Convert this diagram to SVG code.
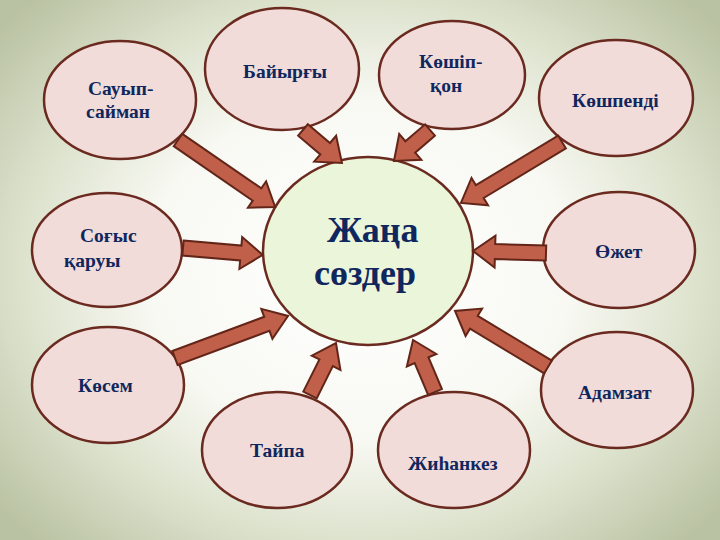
<svg xmlns="http://www.w3.org/2000/svg" width="720" height="540" viewBox="0 0 720 540">
<defs>
<radialGradient id="bg" cx="360" cy="270" r="470" gradientUnits="userSpaceOnUse" gradientTransform="translate(360 270) scale(1 0.8) translate(-360 -270)">
<stop offset="0" stop-color="#ffffff"/>
<stop offset="0.45" stop-color="#f8f9f3"/>
<stop offset="0.72" stop-color="#dde2cd"/>
<stop offset="1" stop-color="#b9c2a2"/>
</radialGradient>
</defs>
<style>
.node{fill:#f2dcd9;stroke:#6b2a20;stroke-width:2.5}
.center{fill:#ebf5da;stroke:#6b2a20;stroke-width:2.5}
.lbl{font-family:"Liberation Serif","Times New Roman",serif;font-weight:bold;font-size:19.5px;fill:#10275e}
.big{font-family:"Liberation Serif","Times New Roman",serif;font-weight:bold;font-size:36px;fill:#10275e}
.arr{fill:#c0604a;stroke:#632518;stroke-width:2;stroke-linejoin:miter}
</style>
<rect x="0" y="0" width="720" height="540" fill="url(#bg)"/>

<g id="node-sauyp"><ellipse class="node" cx="120" cy="100" rx="76" ry="59"/><text class="lbl" x="88" y="95">Сауып-</text><text class="lbl" x="86" y="118">сайман</text></g>
<g id="node-bayyrgy"><ellipse class="node" cx="282" cy="69" rx="77" ry="61"/><text class="lbl" x="243" y="78">Байырғы</text></g>
<g id="node-koship"><ellipse class="node" cx="452" cy="75" rx="73" ry="54"/><text class="lbl" x="419" y="68">Көшіп-</text><text class="lbl" x="430" y="92">қон</text></g>
<g id="node-koshpendi"><ellipse class="node" cx="616" cy="98" rx="77" ry="58"/><text class="lbl" x="572" y="107">Көшпенді</text></g>
<g id="node-sogys"><ellipse class="node" cx="107" cy="250" rx="75" ry="57"/><text class="lbl" x="80" y="242">Соғыс</text><text class="lbl" x="64" y="267">қаруы</text></g>
<g id="node-ozhet"><ellipse class="node" cx="619" cy="250" rx="76" ry="58"/><text class="lbl" x="595" y="258">Өжет</text></g>
<g id="node-kosem"><ellipse class="node" cx="108" cy="385" rx="76" ry="58"/><text class="lbl" x="78" y="392">Көсем</text></g>
<g id="node-taypa"><ellipse class="node" cx="277" cy="450" rx="75" ry="58"/><text class="lbl" x="250" y="457">Тайпа</text></g>
<g id="node-zhihankez"><ellipse class="node" cx="454" cy="450" rx="76" ry="58"/><text class="lbl" x="408" y="470">Жиһанкез</text></g>
<g id="node-adamzat"><ellipse class="node" cx="617" cy="390" rx="76" ry="58"/><text class="lbl" x="578" y="399">Адамзат</text></g>

<g id="node-center"><ellipse class="center" cx="368" cy="251" rx="105" ry="94"/><text class="big" x="327" y="242">Жаңа</text><text class="big" x="314" y="285">сөздер</text></g>

<g id="connectors">
<g transform="translate(178 140) rotate(34.6)"><polygon class="arr" points="0,-7.5 96,-7.5 96,-16 118,0 96,16 96,7.5 0,7.5"/></g>
<g transform="translate(303 130) rotate(40.2)"><polygon class="arr" points="0,-7.5 29,-7.5 29,-17 51,0 29,17 29,7.5 0,7.5"/></g>
<g transform="translate(430 130) rotate(139.3)"><polygon class="arr" points="0,-7.5 26,-7.5 26,-17 47.5,0 26,17 26,7.5 0,7.5"/></g>
<g transform="translate(562 142) rotate(148.9)"><polygon class="arr" points="0,-7.5 96,-7.5 96,-16 118,0 96,16 96,7.5 0,7.5"/></g>
<g transform="translate(183 248) rotate(5)"><polygon class="arr" points="0,-7.5 58,-7.5 58,-16 80,0 58,16 58,7.5 0,7.5"/></g>
<g transform="translate(546 253) rotate(181.6)"><polygon class="arr" points="0,-7.5 51,-7.5 51,-16 73,0 51,16 51,7.5 0,7.5"/></g>
<g transform="translate(175 358) rotate(-20.4)"><polygon class="arr" points="0,-7.5 98,-7.5 98,-16 120.6,0 98,16 98,7.5 0,7.5"/></g>
<g transform="translate(310 395) rotate(-63.4)"><polygon class="arr" points="0,-7.5 36,-7.5 36,-16 58,0 36,16 36,7.5 0,7.5"/></g>
<g transform="translate(435 392) rotate(-112.9)"><polygon class="arr" points="0,-7.5 34.5,-7.5 34.5,-16 56.5,0 34.5,16 34.5,7.5 0,7.5"/></g>
<g transform="translate(548 367) rotate(-148.9)"><polygon class="arr" points="0,-7.5 86.6,-7.5 86.6,-16 108.6,0 86.6,16 86.6,7.5 0,7.5"/></g>
</g>
</svg>
